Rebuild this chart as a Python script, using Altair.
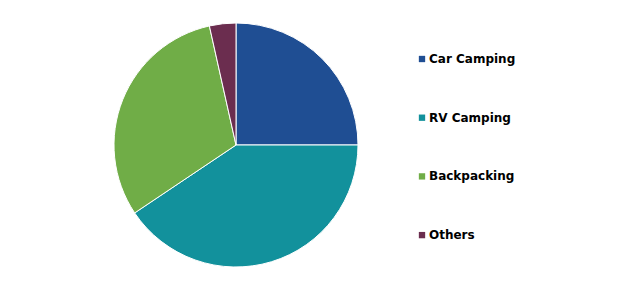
import altair as alt
import pandas as pd

categories = ["Car Camping", "RV Camping", "Backpacking", "Others"]
shares = [25.0, 40.6, 30.9, 3.5]
colors = ["#1F4E93", "#12919C", "#70AD47", "#6B2D4F"]

df = pd.DataFrame({"cat": categories, "val": shares, "idx": list(range(len(categories)))})

chart = alt.Chart(df).mark_arc(radius=122, stroke="white", strokeWidth=1).encode(
    theta=alt.Theta("val:Q", stack=True),
    color=alt.Color(
        "cat:N",
        sort=categories,
        scale=alt.Scale(domain=categories, range=colors),
        legend=alt.Legend(
            title=None,
            orient="none",
            legendX=416,
            legendY=53,
            symbolType="square",
            symbolSize=40,
            symbolStrokeWidth=0,
            labelFont="DejaVu Sans",
            labelFontWeight="bold",
            labelFontSize=12,
            labelColor="black",
            labelOffset=1,
            rowPadding=46.7,
        ),
    ),
    order=alt.Order("idx:Q"),
    x=alt.value(236),
    y=alt.value(145),
).properties(width=620, height=294, padding=0, autosize="none").configure_view(stroke=None)

chart.save("out.html", embed_options={"renderer": "svg", "actions": False})
